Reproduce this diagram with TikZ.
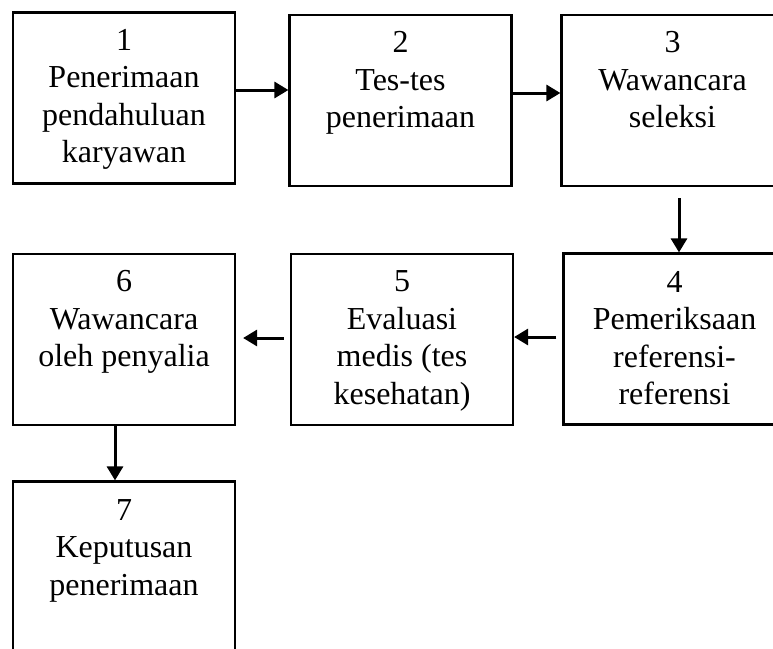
\documentclass[tikz,border=0pt]{standalone}
\usepackage{fontspec}
\setmainfont{Liberation Serif}
\usetikzlibrary{arrows.meta,calc}
\begin{document}
\begin{tikzpicture}[x=1pt,y=-1pt,
  stepbox/.style={draw,line width=2.2pt,rectangle,inner sep=0pt,
    minimum width=222pt,minimum height=171pt},
  steptext/.style={anchor=base,inner sep=0pt,
    font=\fontsize{32}{37.5}\selectfont},
  flow/.style={line width=3pt,-{Triangle[length=14pt,width=16pt]}}]
\useasboundingbox (0,0) rectangle (773,648);

% process steps
\node[stepbox] (b1) at (124,98) {};
\node[stepbox] (b2) at (400.5,100.5) {};
\node[stepbox] (b3) at (672.5,100.5) {};
\node[stepbox] (b4) at (674.5,339) {};
\node[stepbox] (b5) at (402,339.5) {};
\node[stepbox] (b6) at (124,339.5) {};
\node[stepbox] (b7) at (124,567) {};

% labels, first line set near the top of each box
\node[steptext] (t1) at ($(b1.north)+(0,39)$)
  {\parbox[t]{220pt}{\centering 1\\Penerimaan\\pendahuluan\\karyawan}};
\node[steptext] (t2) at ($(b2.north)+(0,39)$)
  {\parbox[t]{220pt}{\centering 2\\Tes-tes\\penerimaan}};
\node[steptext] (t3) at ($(b3.north)+(0,39)$)
  {\parbox[t]{220pt}{\centering 3\\Wawancara\\seleksi}};
\node[steptext] (t4) at ($(b4.north)+(0,40)$)
  {\parbox[t]{220pt}{\centering 4\\Pemeriksaan\\referensi-\\referensi}};
\node[steptext] (t5) at ($(b5.north)+(0,39)$)
  {\parbox[t]{220pt}{\centering 5\\Evaluasi\\medis (tes\\kesehatan)}};
\node[steptext] (t6) at ($(b6.north)+(0,39)$)
  {\parbox[t]{220pt}{\centering 6\\Wawancara\\oleh penyalia}};
\node[steptext] (t7) at ($(b7.north)+(0,40)$)
  {\parbox[t]{220pt}{\centering 7\\Keputusan\\penerimaan}};

% connectors
\coordinate (r12) at (0,90);
\coordinate (r23) at (0,93);
\coordinate (c34) at (679,0);
\coordinate (r45) at (0,337);
\coordinate (r56) at (0,338);
\coordinate (c67) at (115,0);
\draw[flow] (b1.east |- r12) -- (b2.west |- r12);
\draw[flow] (b2.east |- r23) -- (b3.west |- r23);
\draw[flow,shorten <=11pt] (b3.south -| c34) -- (b4.north -| c34);
\draw[flow,shorten <=6pt] (b4.west |- r45) -- (b5.east |- r45);
\draw[flow,shorten <=6pt,shorten >=7pt] (b5.west |- r56) -- (b6.east |- r56);
\draw[flow] (b6.south -| c67) -- (b7.north -| c67);
\end{tikzpicture}
\end{document}
